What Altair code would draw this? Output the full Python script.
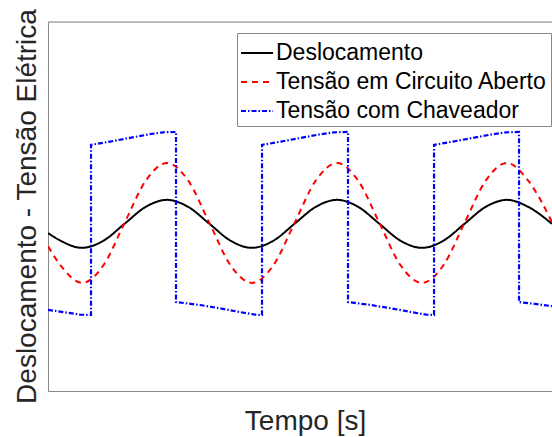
import altair as alt
import pandas as pd

# Series names, in legend order
series = ["Deslocamento", "Tensão em Circuito Aberto", "Tensão com Chaveador"]
colors = ["#000000", "#ff0000", "#0000ff"]
dashes = [[1, 0], [6, 5], [5, 2, 1.5, 2]]

# Displacement and open-circuit voltage share the same time samples
t_sine = [0.0, 0.0075, 0.02, 0.0325, 0.045, 0.0575, 0.07, 0.0825, 0.095,
          0.1075, 0.12, 0.1325, 0.145, 0.1575, 0.17, 0.1825, 0.195, 0.2075,
          0.22, 0.2325, 0.245, 0.2575, 0.27, 0.2825, 0.2965]
deslocamento = [4.28, 4.07, 3.88, 4.07, 4.53, 4.99, 5.18, 4.99, 4.53,
                4.07, 3.88, 4.07, 4.53, 4.99, 5.18, 4.99, 4.53, 4.07,
                3.88, 4.07, 4.53, 4.99, 5.18, 4.99, 4.53]
tensao_aberto = [3.92, 3.40, 2.93, 3.40, 4.55, 5.70, 6.18, 5.70, 4.55,
                 3.40, 2.93, 3.40, 4.55, 5.70, 6.18, 5.70, 4.55, 3.40,
                 2.93, 3.40, 4.55, 5.70, 6.18, 5.70, 4.58]

# Switched voltage (jumps appear as repeated time stamps)
t_chave = [0.0, 0.0100, 0.0188, 0.0253,
           0.0253, 0.0365, 0.0482, 0.0600, 0.0676, 0.0753,
           0.0753, 0.0894, 0.1012, 0.1129, 0.1218, 0.1259,
           0.1259, 0.1371, 0.1488, 0.1606, 0.1682, 0.1765,
           0.1765, 0.1900, 0.2018, 0.2135, 0.2224, 0.2271,
           0.2271, 0.2382, 0.2500, 0.2618, 0.2694, 0.2771,
           0.2771, 0.2865, 0.2965]
tensao_chave = [2.20, 2.13, 2.07, 2.06,
                6.67, 6.76, 6.86, 6.96, 7.01, 7.02,
                2.41, 2.33, 2.24, 2.14, 2.07, 2.06,
                6.67, 6.76, 6.86, 6.96, 7.01, 7.02,
                2.41, 2.33, 2.24, 2.14, 2.07, 2.06,
                6.67, 6.76, 6.86, 6.96, 7.01, 7.02,
                2.41, 2.36, 2.30]


def frame(name, ts, vs):
    return pd.DataFrame({"serie": name, "t": ts, "v": vs, "i": range(len(ts))})


df_smooth = pd.concat([frame(series[0], t_sine, deslocamento),
                       frame(series[1], t_sine, tensao_aberto)])
df_switch = frame(series[2], t_chave, tensao_chave)

FONT = "Liberation Sans"
x_scale = alt.Scale(domain=[0, 0.2965], nice=False, zero=False)
y_scale = alt.Scale(domain=[0, 10], nice=False, zero=False)

legend = alt.Legend(
    title=None, orient="none", legendX=189, legendY=11,
    symbolType="stroke", symbolSize=1024, symbolStrokeWidth=2,
    labelFont=FONT, labelFontSize=23, labelColor="#000000",
    labelLimit=400, labelOffset=2, rowPadding=0,
    padding=3, strokeColor="#888888", fillColor="#ffffff",
)

enc = dict(
    x=alt.X("t:Q", scale=x_scale,
            axis=alt.Axis(title="Tempo [s]", labels=False, ticks=False, grid=False,
                          domainColor="#888888", domainWidth=1,
                          titleFont=FONT, titleFontSize=28, titleFontWeight="normal",
                          titleColor="#262626", titleX=257, titleY=38,
                          titleBaseline="alphabetic", titleAlign="center")),
    y=alt.Y("v:Q", scale=y_scale,
            axis=alt.Axis(title="Deslocamento - Tensão Elétrica", labels=False, ticks=False,
                          grid=False, domainColor="#888888", domainWidth=1,
                          titleFont=FONT, titleFontSize=28, titleFontWeight="normal",
                          titleColor="#262626", titleX=-13, titleY=184,
                          titleBaseline="alphabetic", titleAlign="center", titleAngle=270)),
    color=alt.Color("serie:N", scale=alt.Scale(domain=series, range=colors), legend=legend),
    strokeDash=alt.StrokeDash("serie:N", scale=alt.Scale(domain=series, range=dashes),
                              legend=legend),
    order="i:Q",
)

smooth = alt.Chart(df_smooth).mark_line(strokeWidth=2, clip=True,
                                        interpolate="monotone").encode(**enc)
switch = alt.Chart(df_switch).mark_line(strokeWidth=2.2, clip=True).encode(**enc)

# Top frame line of the axes box
top = alt.Chart(pd.DataFrame({"v": [10]})).mark_rule(color="#888888", strokeWidth=1).encode(
    y=alt.Y("v:Q", scale=y_scale)
)

chart = alt.layer(smooth, switch, top).properties(
    width=504, height=369,
    autosize=alt.AutoSizeParams(type="none"),
    padding={"left": 48, "top": 22, "right": 0, "bottom": 46},
).configure_view(stroke=None).configure(background="#ffffff")

chart.save("out.html", embed_options={"renderer": "svg", "actions": False})
